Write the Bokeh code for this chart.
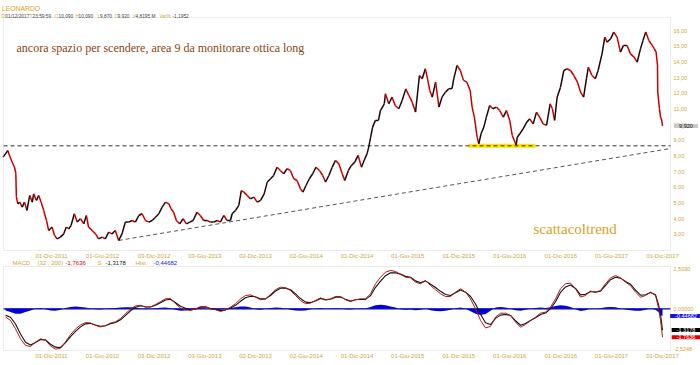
import pandas as pd
from bokeh.plotting import figure
from bokeh.models import Range1d, FixedTicker, Label, ColumnDataSource, LinearAxis, BoxAnnotation
from bokeh.layouts import column
from bokeh.embed import file_html
from bokeh.resources import INLINE

# ---------------- data ----------------
price_dates = [
    "2011-06-10", "2011-06-19", "2011-06-27", "2011-07-04", "2011-07-13", "2011-07-21", "2011-07-26", "2011-07-28",
    "2011-08-02", "2011-08-09", "2011-08-18", "2011-08-26", "2011-09-04", "2011-09-14", "2011-09-23", "2011-09-28",
    "2011-10-08", "2011-10-16", "2011-10-25", "2011-11-03", "2011-11-13", "2011-11-21", "2011-12-03", "2011-12-12",
    "2011-12-21", "2012-01-02", "2012-01-14", "2012-01-23", "2012-02-01", "2012-02-09", "2012-02-21", "2012-03-02",
    "2012-03-14", "2012-03-26", "2012-04-04", "2012-04-12", "2012-04-25", "2012-05-07", "2012-05-18", "2012-05-31",
    "2012-06-11", "2012-06-23", "2012-07-05", "2012-07-17", "2012-07-29", "2012-08-10", "2012-08-22", "2012-09-03",
    "2012-09-15", "2012-09-27", "2012-10-09", "2012-10-21", "2012-11-02", "2012-11-14", "2012-11-26", "2012-12-08",
    "2012-12-20", "2013-01-01", "2013-01-13", "2013-01-25", "2013-02-02", "2013-02-11", "2013-02-21", "2013-03-05",
    "2013-03-17", "2013-03-29", "2013-04-10", "2013-04-22", "2013-05-06", "2013-05-18", "2013-05-30", "2013-06-11",
    "2013-06-23", "2013-07-05", "2013-07-17", "2013-07-29", "2013-08-10", "2013-08-22", "2013-09-03", "2013-09-09",
    "2013-09-21", "2013-10-03", "2013-10-12", "2013-10-21", "2013-11-02", "2013-11-14", "2013-11-26", "2013-12-08",
    "2013-12-20", "2014-01-02", "2014-01-13", "2014-01-25", "2014-02-05", "2014-02-17", "2014-03-01", "2014-03-13",
    "2014-03-25", "2014-04-06", "2014-04-18", "2014-04-30", "2014-05-12", "2014-05-21", "2014-06-01", "2014-06-13",
    "2014-06-25", "2014-07-07", "2014-07-19", "2014-07-31", "2014-08-10", "2014-08-22", "2014-09-03", "2014-09-15",
    "2014-09-27", "2014-10-09", "2014-10-18", "2014-10-31", "2014-11-11", "2014-11-23", "2014-12-05", "2014-12-17",
    "2014-12-29", "2015-01-06", "2015-01-12", "2015-01-19", "2015-01-26", "2015-02-05", "2015-02-16", "2015-02-23",
    "2015-03-09", "2015-03-13", "2015-03-25", "2015-04-06", "2015-04-17", "2015-04-30", "2015-05-12", "2015-05-25",
    "2015-06-05", "2015-06-17", "2015-06-29", "2015-07-13", "2015-07-23", "2015-08-03", "2015-08-11", "2015-08-19",
    "2015-08-28", "2015-09-09", "2015-09-21", "2015-10-02", "2015-10-14", "2015-10-26", "2015-11-07", "2015-11-13",
    "2015-11-25", "2015-12-07", "2015-12-18", "2015-12-30", "2016-01-11", "2016-01-18", "2016-01-26", "2016-02-05",
    "2016-02-11", "2016-02-19", "2016-02-29", "2016-03-09", "2016-03-21", "2016-04-01", "2016-04-14", "2016-04-26",
    "2016-05-09", "2016-05-20", "2016-06-01", "2016-06-10", "2016-06-24", "2016-06-28", "2016-07-07", "2016-07-19",
    "2016-08-01", "2016-08-12", "2016-08-24", "2016-09-05", "2016-09-16", "2016-09-29", "2016-10-11", "2016-10-24",
    "2016-11-01", "2016-11-09", "2016-11-18", "2016-11-30", "2016-12-12", "2016-12-23", "2017-01-05", "2017-01-17",
    "2017-01-30", "2017-02-10", "2017-02-21", "2017-03-03", "2017-03-10", "2017-03-23", "2017-04-04", "2017-04-14",
    "2017-04-28", "2017-05-08", "2017-05-16", "2017-05-29", "2017-06-09", "2017-06-21", "2017-07-03", "2017-07-14",
    "2017-07-27", "2017-08-08", "2017-08-21", "2017-09-01", "2017-09-13", "2017-09-22", "2017-10-02", "2017-10-13",
    "2017-10-25", "2017-11-02", "2017-11-08", "2017-11-13", "2017-11-14", "2017-11-20", "2017-11-24", "2017-11-28",
    "2017-12-01",
]
price_close = [
    7.93, 8.14, 8.35, 8.00, 7.60, 7.30, 6.90, 5.40,
    4.95, 5.06, 4.74, 5.06, 4.53, 5.49, 5.06, 5.59,
    5.17, 5.49, 5.06, 4.53, 3.89, 3.25, 3.47, 2.94,
    2.72, 2.83, 3.04, 3.47, 3.36, 3.57, 4.32, 3.79,
    4.00, 3.68, 4.21, 3.47, 3.25, 3.04, 2.72, 2.83,
    2.72, 3.15, 3.04, 3.25, 2.62, 3.04, 3.79, 3.79,
    3.89, 3.79, 4.21, 4.32, 3.89, 3.79, 3.89, 4.10,
    4.32, 4.74, 5.06, 4.95, 4.64, 4.42, 3.89, 3.68,
    4.00, 3.68, 3.79, 3.89, 4.42, 4.21, 3.89, 3.89,
    3.79, 3.79, 3.89, 3.79, 4.21, 3.89, 3.89, 4.32,
    4.53, 4.85, 5.80, 5.70, 5.49, 5.27, 5.38, 5.06,
    5.17, 5.59, 6.34, 6.55, 6.76, 7.29, 7.08, 6.87,
    7.19, 7.08, 6.55, 6.44, 5.91, 5.70, 6.12, 6.55,
    6.87, 7.29, 7.08, 6.76, 6.34, 6.76, 7.29, 7.72,
    7.50, 6.87, 6.44, 7.08, 7.40, 7.61, 8.04, 7.29,
    7.82, 8.14, 8.57, 9.20, 9.84, 10.27, 10.27, 10.90,
    11.33, 11.97, 11.33, 11.75, 11.22, 11.01, 11.54, 12.28,
    11.86, 11.43, 10.80, 13.13, 12.92, 13.56, 12.92, 12.18,
    11.75, 12.71, 11.12, 11.75, 12.07, 12.28, 12.30, 12.92,
    13.77, 13.45, 12.82, 12.71, 12.18, 11.12, 10.48, 9.20,
    8.78, 9.42, 9.84, 10.48, 11.22, 11.01, 11.12, 10.90,
    10.48, 10.90, 10.27, 9.31, 8.70, 9.20, 9.42, 9.73,
    10.16, 10.37, 10.05, 10.80, 10.48, 10.05, 9.95, 11.33,
    11.01, 10.27, 11.75, 12.39, 13.45, 13.56, 13.45, 13.13,
    12.71, 12.07, 11.75, 12.92, 13.66, 13.13, 12.92, 13.45,
    14.51, 15.58, 15.26, 15.47, 15.90, 15.58, 14.62, 15.05,
    15.05, 14.51, 14.30, 13.98, 14.83, 15.36, 15.90, 15.36,
    15.05, 14.83, 14.62, 13.80, 12.07, 11.01, 10.48, 10.30,
    9.92,
]

trend_dates = ["2012-07-29", "2017-12-30"]
trend_values = [2.62, 8.48]
support_level = 8.65
support_zone_dates = ["2016-01-05", "2016-09-01"]

# MACD (regularly spaced readings Jun 2011 -> early Nov 2017, then the last three bars)
macd_values = [
    -0.50, -0.72, -1.24, -1.86, -2.27, -2.34, -2.07, -1.86, -1.95, -2.30,
    -2.50, -2.45, -2.05, -1.60, -1.25, -1.00, -0.85, -0.88, -1.03, -1.12,
    -1.05, -0.88, -0.80, -0.60, -0.30, -0.02, 0.18, 0.22, 0.10, 0.12,
    0.27, 0.45, 0.63, 0.64, 0.32, 0.04, -0.06, -0.10, 0.00, 0.15,
    0.15, 0.00, -0.06, -0.16, -0.06, 0.11, 0.32, 0.62, 0.83, 0.87,
    0.73, 0.57, 0.62, 0.89, 1.19, 1.35, 1.31, 1.14, 0.83, 0.52,
    0.32, 0.36, 0.52, 0.69, 0.57, 0.62, 0.77, 0.77, 0.57, 0.45,
    0.57, 0.62, 0.62, 0.94, 1.56, 1.97, 2.28, 2.39, 2.32, 2.14,
    1.97, 1.93, 1.66, 1.56, 1.76, 1.45, 1.19, 0.94, 0.77, 0.77,
    1.04, 1.25, 1.04, 0.62, 0.00, -0.72, -1.18, -1.09, -0.51, -0.27,
    -0.27, -0.41, -0.82, -1.14, -0.97, -0.72, -0.51, -0.27, -0.20, 0.11,
    0.62, 1.25, 1.56, 1.60, 1.25, 0.73, 0.83, 1.10, 1.04, 1.14,
    1.56, 1.93, 2.07, 1.93, 1.66, 1.45, 1.04, 0.73, 0.83, 1.04,
    0.83,
    0.11, -0.72, -1.7636,
]
hist_values = [
    -0.10, -0.20, -0.30, -0.30, -0.20, -0.10, 0.02, 0.05, -0.02, -0.10,
    -0.12, -0.05, 0.05, 0.12, 0.15, 0.12, 0.08, 0.02, -0.03, -0.04,
    0.00, 0.04, 0.05, 0.08, 0.10, 0.10, 0.08, 0.03, -0.03, 0.00,
    0.04, 0.07, 0.08, 0.04, -0.06, -0.12, -0.10, -0.05, 0.02, 0.05,
    0.03, -0.02, -0.04, -0.05, 0.00, 0.05, 0.10, 0.15, 0.14, 0.08,
    -0.02, -0.05, 0.00, 0.06, 0.08, 0.07, 0.02, -0.05, -0.10, -0.12,
    -0.10, -0.03, 0.03, 0.05, 0.01, 0.02, 0.04, 0.03, -0.02, -0.04,
    0.00, 0.02, 0.03, 0.12, 0.22, 0.25, 0.22, 0.15, 0.08, -0.02,
    -0.05, -0.04, -0.08, -0.06, 0.02, -0.08, -0.14, -0.15, -0.12, -0.06,
    0.04, 0.08, 0.00, -0.15, -0.30, -0.38, -0.32, -0.12, 0.08, 0.12,
    0.08, 0.00, -0.08, -0.12, -0.06, 0.00, 0.05, 0.08, 0.06, 0.10,
    0.18, 0.22, 0.20, 0.12, -0.02, -0.14, -0.08, 0.02, 0.00, 0.04,
    0.10, 0.12, 0.10, 0.02, -0.04, -0.08, -0.12, -0.12, -0.05, 0.02,
    -0.05,
    -0.20, -0.38, -0.4458,
]
macd_grid_start = "2011-06-19"
macd_grid_end = "2017-11-06"
macd_tail_dates = ["2017-11-16", "2017-11-24", "2017-12-01"]

tick_dates = ["2011-12-01", "2012-06-01", "2012-12-03", "2013-06-03", "2013-12-02", "2014-06-02",
              "2014-12-01", "2015-06-01", "2015-12-01", "2016-06-01", "2016-12-01", "2017-06-01", "2017-12-01"]
tick_labels = ["01-Dic-2011", "01-Giu-2012", "03-Dic-2012", "03-Giu-2013", "02-Dic-2013", "02-Giu-2014",
               "01-Dic-2014", "01-Giu-2015", "01-Dic-2015", "01-Giu-2016", "01-Dic-2016", "01-Giu-2017", "01-Dic-2017"]
price_ticks = [3, 4, 5, 6, 7, 8, 9, 10, 11, 12, 13, 14, 15, 16]
price_tick_labels = ["3,00", "4,00", "5,00", "6,00", "7,00", "8,00", "9,00", "10,00", "11,00",
                     "12,00", "13,00", "14,00", "15,00", "16,00"]
macd_ticks = [-2.5248, 0.0, 2.509]
macd_tick_labels = ["-2,5248", "0,00000", "2,5090"]
last_close = 9.92
last_macd, last_signal, last_hist = -1.7636, -1.3178, -0.44682

# ---------------- layout helpers (pixel geometry of the panels) ----------------
EPOCH = pd.Timestamp("2011-01-01")


def day(d):
    return (pd.Timestamp(d) - EPOCH) / pd.Timedelta(days=1)


W, H1, H2 = 700, 258, 107
D0 = day("2011-12-01")          # first labelled tick, at x = 51 px
PXD = 611.0 / 2192.0            # pixels per day


def xd(px):                      # page x pixel -> day value
    return D0 + (px - 51) / PXD


def yp(py):                      # page y pixel -> price (upper panel)
    return 16 + (30 - py) / 15.69


def ym(py):                      # local y pixel -> MACD (lower panel)
    return 2.509 + (10 - py) / 16.09


GOLD = "#cfa63c"
RED = "#c80000"
DARK = "#1e0808"
BLUE = "#0000e0"
GRAYTXT = "#444444"

xr = Range1d(xd(0), xd(W))
LEFT, RIGHT = xd(3), xd(670)
tick_x = [day(d) for d in tick_dates]


def lab(p, x, y, text, color, size, font="Liberation Sans", align="left", baseline="alphabetic", **kw):
    p.add_layout(Label(x=x, y=y, text=text, text_color=color, text_font_size=size, text_font=font,
                       text_align=align, text_baseline=baseline, **kw))


def box_label(p, x, y, text, color, bg):
    kw = dict(x=x, y=y, text=text, text_color=color, text_font_size="5.5px", text_font="Liberation Sans",
              text_align="center", text_baseline="middle", background_fill_color=bg)
    for pad in (dict(left=5, right=5, top=0, bottom=0), 1):
        try:
            p.add_layout(Label(padding=pad, **kw))
            return
        except Exception:
            continue
    p.add_layout(Label(**kw))


def add_axes(p, x_loc, yticks, ylabels):
    xa = LinearAxis(fixed_location=x_loc, ticker=FixedTicker(ticks=tick_x),
                    major_label_overrides={t: l for t, l in zip(tick_x, tick_labels)})
    ya = LinearAxis(fixed_location=RIGHT, ticker=FixedTicker(ticks=yticks),
                    major_label_overrides={t: l for t, l in zip(yticks, ylabels)})
    for ax in (xa, ya):
        ax.axis_line_color = None
        ax.major_tick_line_color = None
        ax.minor_tick_line_color = None
        ax.major_tick_out = 0
        ax.major_tick_in = 0
        ax.major_label_text_color = GOLD
        ax.major_label_text_font = "Liberation Sans"
    xa.major_label_text_font_size = "6px"
    xa.major_label_standoff = 2
    ya.major_label_text_font_size = "5.5px"
    ya.major_label_standoff = 3
    p.add_layout(xa, "below")
    p.add_layout(ya, "right")


def make_fig(h, y0, y1):
    p = figure(width=W, height=h, x_range=xr, y_range=Range1d(y0, y1),
               x_axis_location=None, y_axis_location=None,
               output_backend="svg", toolbar_location=None,
               min_border=0, min_border_left=0, min_border_right=0, min_border_top=0, min_border_bottom=0)
    p.grid.visible = False
    p.outline_line_color = None
    p.background_fill_color = "white"
    p.border_fill_color = "white"
    return p


# ---------------- price panel ----------------
p1 = make_fig(H1, yp(H1), yp(0))
P_TOP, P_BOT = yp(17), yp(250)
p1.add_layout(BoxAnnotation(left=LEFT, right=RIGHT, top=P_TOP, bottom=P_BOT, fill_alpha=0,
                            line_color="#bdbdbd", line_width=1))
add_axes(p1, P_BOT, price_ticks, price_tick_labels)

p1.line([day(d) for d in support_zone_dates], [support_level] * 2, line_color="#ffe400", line_width=4)
p1.segment(x0=[LEFT], y0=[support_level], x1=[RIGHT], y1=[support_level],
           line_color="#333333", line_dash="4 3", line_width=1)
p1.line([day(d) for d in trend_dates], trend_values, line_color="#555555", line_dash="4 3", line_width=1)

px = [day(d) for d in price_dates]
seg = ColumnDataSource(dict(
    x0=px[:-1], y0=price_close[:-1], x1=px[1:], y1=price_close[1:],
    color=[RED if b < a else DARK for a, b in zip(price_close[:-1], price_close[1:])]))
p1.segment("x0", "y0", "x1", "y1", source=seg, line_color="color", line_width=1.5)

lab(p1, xd(16), yp(47), "ancora spazio per scendere, area 9 da monitorare ottica long",
    "#8b4513", "12px", font="Liberation Serif")
lab(p1, xd(533), yp(228), "scattacoltrend", "#d9a21b", "15px", font="Liberation Serif")

lab(p1, xd(1.5), yp(8.3), "LEONARDO", "#e0a020", "6.8px")
header = [("D", GOLD, 1), ("01/12/2017", GRAYTXT, 4.8), ("T", GOLD, 29), ("23:59:59", GRAYTXT, 32),
          ("O", GOLD, 54), ("10,090", GRAYTXT, 58), ("H", GOLD, 75), ("10,090", GRAYTXT, 78),
          ("L", GOLD, 97), ("9,870", GRAYTXT, 99.5), ("C", GOLD, 114), ("9,920", GRAYTXT, 117),
          ("V", GOLD, 132), ("4,8195 M", GRAYTXT, 135), ("Var%", GOLD, 159), ("-1,1952", GRAYTXT, 172)]
for txt, col, xpos in header:
    lab(p1, xd(xpos), yp(15.8), txt, col, "4.8px")

box_label(p1, xd(685.5), last_close, "9,920", "#222222", "#c8c8c8")

# ---------------- MACD panel ----------------
p2 = make_fig(H2, ym(H2), ym(0))
M_TOP, M_BOT = ym(266 - H1), ym(350 - H1)
p2.add_layout(BoxAnnotation(left=LEFT, right=RIGHT, top=M_TOP, bottom=M_BOT, fill_alpha=0,
                            line_color="#bdbdbd", line_width=1))
add_axes(p2, M_BOT, macd_ticks, macd_tick_labels)

n_grid = len(macd_values) - len(macd_tail_dates)
grid = pd.date_range(macd_grid_start, macd_grid_end, periods=n_grid)
mx = [day(d) for d in grid] + [day(d) for d in macd_tail_dates]
signal_values = [m - h for m, h in zip(macd_values, hist_values)]

p2.varea(x=mx, y1=[0] * len(mx), y2=hist_values, fill_color=BLUE, fill_alpha=1)
p2.segment(x0=[LEFT], y0=[0], x1=[RIGHT], y1=[0], line_color="#0000b0", line_width=1.3)
p2.line(mx, signal_values, line_color="#111111", line_width=1.1)
p2.line(mx, macd_values, line_color="#b01818", line_width=1)

mhead = [("MACD", GOLD, 12), ("(32 , 200)", GOLD, 37), ("-1,7636", "#dd0000", 65), ("S", GOLD, 97),
         ("-1,3178", "#202020", 105), ("Hist", GOLD, 135), ("-0,44682", "#2020dd", 153)]
for txt, col, xpos in mhead:
    lab(p2, xd(xpos), ym(262.5 - H1), txt, col, "6px")

for v, txt, bg in [(last_hist, "-0,44682", "#1515e0"), (last_signal, "-1,3178", "#000000"),
                   (last_macd, "-1,7636", "#e00000")]:
    box_label(p2, xd(685.5), v, txt, "white", bg)

layout = column(p1, p2, spacing=0)
open("out.html", "w").write(file_html(layout, INLINE))
